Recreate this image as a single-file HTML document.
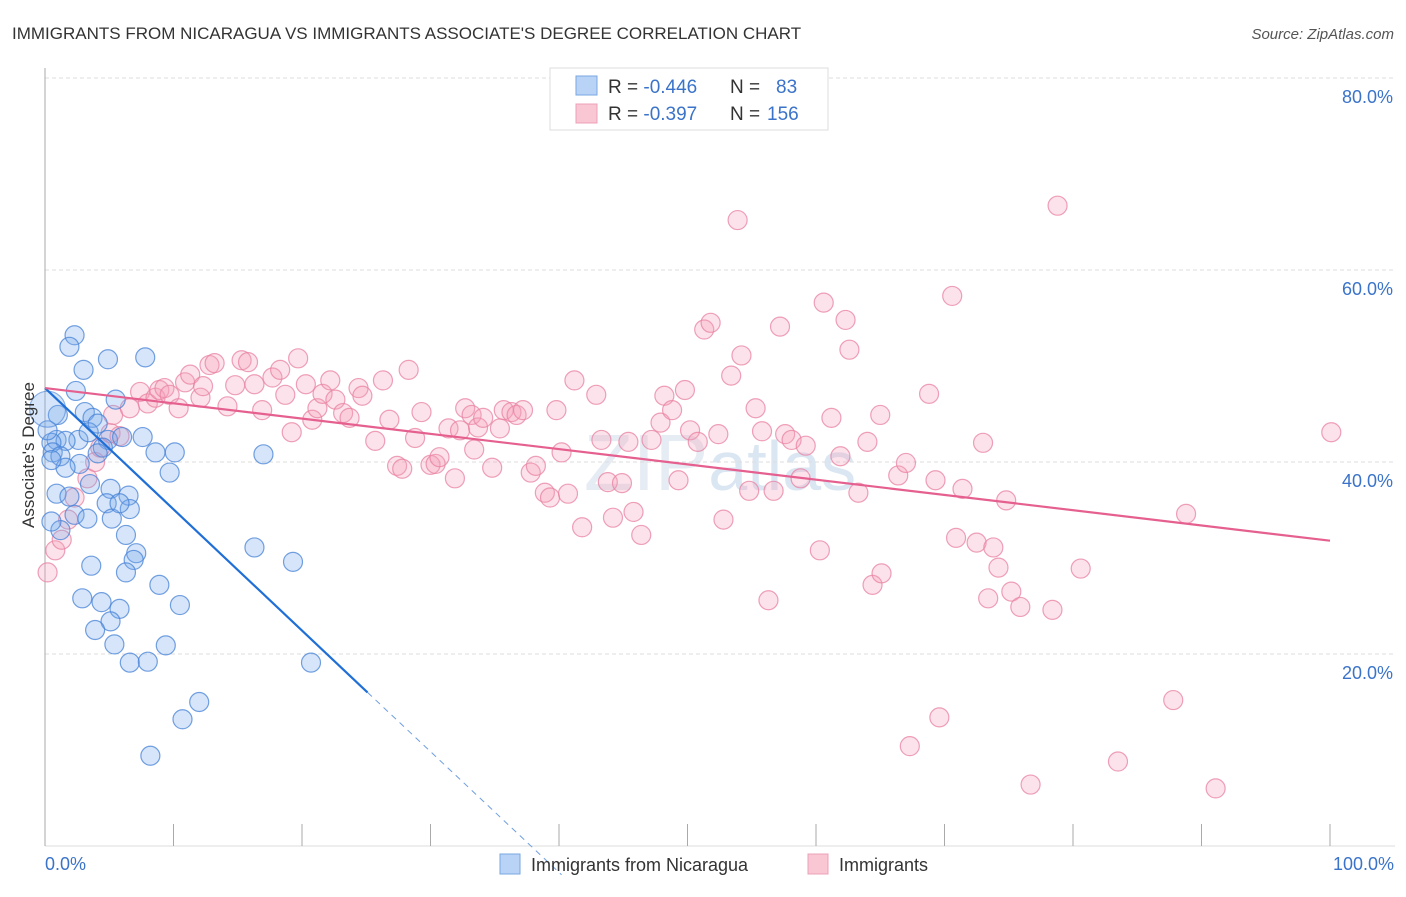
<!DOCTYPE html>
<html><head><meta charset="utf-8"><style>
body{margin:0;background:#fff;font-family:"Liberation Sans",sans-serif;}
svg text{font-family:"Liberation Sans",sans-serif;}
</style></head><body>
<svg id="chart" width="1406" height="892" viewBox="0 0 1406 892" xmlns="http://www.w3.org/2000/svg">
<text x="12" y="39" font-size="17" fill="#333">IMMIGRANTS FROM NICARAGUA VS IMMIGRANTS ASSOCIATE'S DEGREE CORRELATION CHART</text>
<text x="1394" y="39" font-size="15" fill="#555" text-anchor="end" font-style="italic">Source: ZipAtlas.com</text>
<text x="720" y="490" font-size="80" fill="#e6ecf3" text-anchor="middle" font-family="Liberation Serif">ZIP<tspan font-family="Liberation Sans" font-size="70" fill="#dbe6f3">atlas</tspan></text>
<g id="grid"></g>
<g id="axes"></g>
<g id="pink"></g>
<g id="blue"></g>
<g id="lines"></g>
<text transform="translate(34,455) rotate(-90)" font-size="17" fill="#333" text-anchor="middle">Associate's Degree</text>
<g>
<rect x="550" y="68" width="278" height="62" fill="#fff" stroke="#ddd"/>
<rect x="576" y="76" width="21" height="19" fill="#b8d3f5" stroke="#7aa7e2"/>
<rect x="576" y="104" width="21" height="19" fill="#f9c6d4" stroke="#eca0b7"/>
<text x="608" y="93" font-size="19" fill="#333">R = <tspan fill="#3a73c9">-0.446</tspan><tspan x="730">N = </tspan><tspan x="776" fill="#3a73c9">83</tspan></text>
<text x="608" y="120" font-size="19" fill="#333">R = <tspan fill="#3a73c9"> -0.397</tspan><tspan x="730">N = </tspan><tspan x="767" fill="#3a73c9">156</tspan></text>
</g>
<g>
<rect x="500" y="854" width="20" height="20" fill="#b8d3f5" stroke="#7aa7e2"/>
<text x="531" y="871" font-size="18" fill="#333">Immigrants from Nicaragua</text>
<rect x="808" y="854" width="20" height="20" fill="#f9c6d4" stroke="#eca0b7"/>
<text x="839" y="871" font-size="18" fill="#333">Immigrants</text>
</g>
</svg>
<script>
const yTicks=[20,40,60,80];
const yTickLabels=["20.0%","40.0%","60.0%","80.0%"];
const xEdgeLabels=["0.0%","100.0%"];
const blueX=[2.3,1.9,4.9,7.8,3.0,2.4,5.5,3.1,3.7,1.0,2.6,3.4,4.1,4.9,0.9,1.6,0.5,4.5,6.0,7.6,8.6,10.1,9.7,17.0,4.1,0.6,1.2,2.7,1.6,3.5,5.1,6.5,0.9,1.9,2.3,3.3,4.8,6.6,5.2,5.8,1.2,0.5,6.3,7.1,6.9,6.3,3.6,2.9,4.4,5.8,5.1,3.9,5.4,8.9,10.5,9.4,6.6,8.0,16.3,19.3,20.7,12.0,10.7,8.2,0.2,0.5];
const blueY=[53.2,52.0,50.7,50.9,49.6,47.4,46.5,45.2,44.6,44.9,42.3,43.1,44.0,42.3,42.3,42.2,42.0,41.5,42.6,42.6,41.0,41.0,38.9,40.8,40.9,41.0,40.6,39.8,39.4,37.7,37.2,36.5,36.7,36.4,34.5,34.1,35.7,35.1,34.1,35.7,32.9,33.8,32.4,30.5,29.8,28.5,29.2,25.8,25.4,24.7,23.4,22.5,21.0,27.2,25.1,20.9,19.1,19.2,31.1,29.6,19.1,15.0,13.2,9.4,43.3,40.2];
const bigBlueX=[0.2], bigBlueY=[45.5];
const pinkX=[0.2,0.8,1.3,1.8,2.3,3.3,3.9,4.3,5.1,5.8,5.3,6.6,7.4,8.0,8.6,8.9,9.3,9.7,10.4,10.9,11.3,12.1,12.3,12.8,13.2,14.2,14.8,15.3,15.8,16.3,16.9,17.7,18.3,18.7,19.2,19.7,20.3,20.8,21.2,21.6,22.2,22.6,23.2,23.7,24.4,24.7,25.7,26.3,26.8,27.4,27.8,28.3,28.8,29.3,30.0,30.4,30.7,31.4,31.9,32.3,32.7,33.2,33.4,33.7,34.1,34.8,35.4,35.7,36.3,36.7,37.2,37.8,38.2,38.9,39.3,39.8,40.2,40.7,41.2,41.8,42.9,43.3,43.8,44.2,44.9,45.4,45.8,46.4,47.2,47.9,48.2,48.8,49.3,49.8,50.2,50.8,51.3,51.8,52.4,52.8,53.4,53.9,54.2,54.8,55.3,55.8,56.3,56.7,57.2,57.6,58.1,58.8,59.2,60.3,60.6,61.2,61.9,62.3,62.6,63.3,64.0,64.4,65.0,65.1,66.4,67.0,67.3,68.8,69.3,69.6,70.6,70.9,71.4,72.5,73.0,73.4,73.8,74.2,74.8,75.2,75.9,76.7,78.4,78.8,80.6,83.5,87.8,88.8,91.1,100.1];
const pinkY=[28.5,30.8,31.9,34.0,36.3,38.3,40.0,41.5,43.0,42.7,44.9,45.6,47.3,46.1,46.7,47.5,47.7,47.0,45.6,48.3,49.1,46.7,47.9,50.1,50.3,45.8,48.0,50.6,50.4,48.1,45.4,48.8,49.6,47.0,43.1,50.8,48.1,44.4,45.6,47.1,48.5,46.5,45.1,44.6,47.7,46.9,42.2,48.5,44.4,39.6,39.3,49.6,42.5,45.2,39.7,39.8,40.5,43.5,38.3,43.3,45.6,44.9,41.3,43.6,44.6,39.4,43.5,45.4,45.2,44.9,45.4,38.9,39.6,36.8,36.3,45.4,41.0,36.7,48.5,33.2,47.0,42.3,37.9,34.2,37.8,42.1,34.8,32.4,42.3,44.1,46.9,45.4,38.1,47.5,43.3,42.1,53.8,54.5,42.9,34.0,49.0,65.2,51.1,37.0,45.6,43.2,25.6,37.0,54.1,42.9,42.3,38.3,41.7,30.8,56.6,44.6,40.6,54.8,51.7,36.8,42.1,27.2,44.9,28.4,38.6,39.9,10.4,47.1,38.1,13.4,57.3,32.1,37.2,31.6,42.0,25.8,31.1,29.0,36.0,26.5,24.9,6.4,24.6,66.7,28.9,8.8,15.2,34.6,6.0,43.1];
const blueTrendX=[0,25.1,40.2];
const blueTrendY=[47.7,16.0,-3.0];
const pinkTrendX=[0,100];
const pinkTrendY=[47.7,31.8];

const NS="http://www.w3.org/2000/svg";
const X0=45,X1=1330,Y0=846,Y80=78;
function sx(v){return X0+(X1-X0)*v/100;}
function sy(v){return Y0-(Y0-Y80)*v/80;}
function mk(tag,attrs,parent){const e=document.createElementNS(NS,tag);for(const k in attrs)e.setAttribute(k,attrs[k]);parent.appendChild(e);return e;}
const grid=document.getElementById('grid'),axes=document.getElementById('axes');
yTicks.forEach((t,i)=>{
 const l=mk('line',{x1:X0,x2:1395,y1:sy(t),y2:sy(t),stroke:'#ddd','stroke-dasharray':'4,3'},grid);
 
 
 const tx=mk('text',{x:1393,y:sy(t)+25,'font-size':18,fill:'#3a73c9','text-anchor':'end'},grid);
 tx.textContent=yTickLabels[i];
 
 
});
const al=mk('line',{x1:X0,x2:X0,y1:68,y2:Y0,stroke:'#aaa'},axes);


const bl=mk('line',{x1:X0,x2:1395,y1:Y0,y2:Y0,stroke:'#ddd'},axes);


for(let v=0;v<=100;v+=10){
 const t=mk('line',{x1:sx(v),x2:sx(v),y1:824,y2:Y0,stroke:'#aaa'},axes);
 
 
}
[[0,'start',45],[100,'end',1394]].forEach((a,i)=>{
 const tx=mk('text',{x:a[2],y:870,'font-size':18,fill:'#3a73c9','text-anchor':a[1]},axes);
 tx.textContent=xEdgeLabels[i];
 
 
});
const pg=document.getElementById('pink'),bg=document.getElementById('blue');
pinkX.forEach((x,i)=>{
 const c=mk('circle',{cx:sx(x),cy:sy(pinkY[i]),r:9.5,fill:'rgba(244,160,186,0.3)',stroke:'rgba(232,130,162,0.75)','stroke-width':1.2},pg);
 
 
});
blueX.forEach((x,i)=>{
 const c=mk('circle',{cx:sx(x),cy:sy(blueY[i]),r:9.5,fill:'rgba(120,170,235,0.3)',stroke:'rgba(70,130,215,0.75)','stroke-width':1.2},bg);
 
 
});
bigBlueX.forEach((x,i)=>{
 const c=mk('circle',{cx:sx(x),cy:sy(bigBlueY[i]),r:18,fill:'rgba(120,170,235,0.3)',stroke:'rgba(70,130,215,0.6)','stroke-width':1.2},bg);
 
 
});
const lg=document.getElementById('lines');
const b1=mk('line',{x1:sx(blueTrendX[0]),y1:sy(blueTrendY[0]),x2:sx(blueTrendX[1]),y2:sy(blueTrendY[1]),stroke:'#1f6fd6','stroke-width':2.2},lg);


const b2=mk('line',{x1:sx(blueTrendX[1]),y1:sy(blueTrendY[1]),x2:sx(blueTrendX[2]),y2:sy(blueTrendY[2]),stroke:'#6f9ee0','stroke-width':1,'stroke-dasharray':'6,5'},lg);


const p1=mk('line',{x1:sx(pinkTrendX[0]),y1:sy(pinkTrendY[0]),x2:sx(pinkTrendX[1]),y2:sy(pinkTrendY[1]),stroke:'#e5608f','stroke-width':2.2},lg);


</script>
</body></html>
